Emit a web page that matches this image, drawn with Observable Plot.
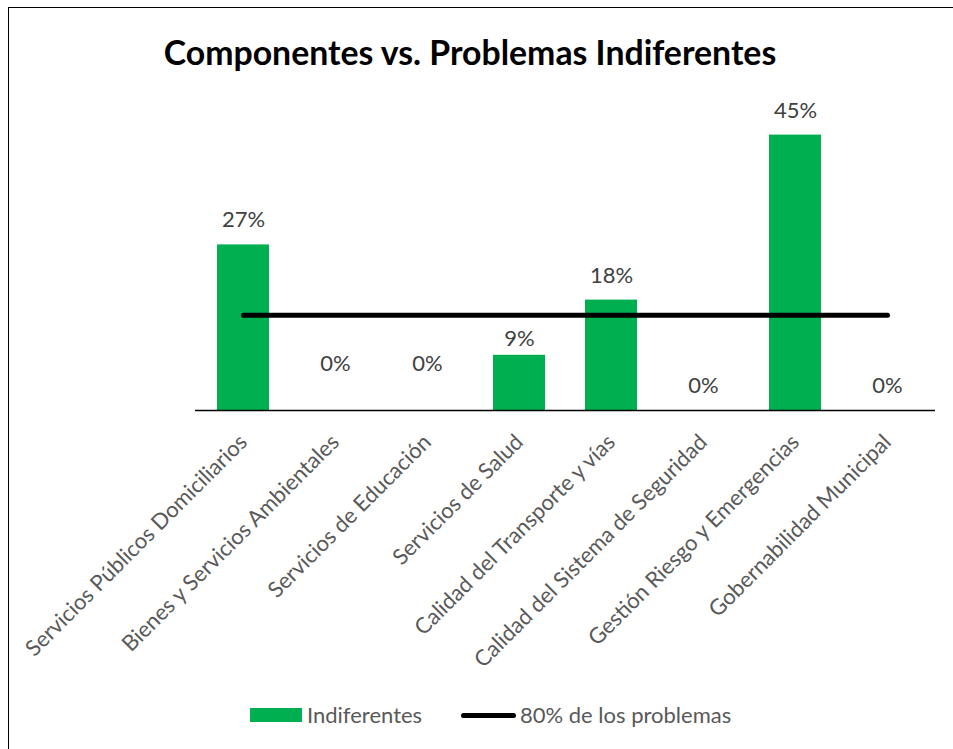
<!DOCTYPE html>
<html><head><meta charset="utf-8">
<script src="https://cdn.jsdelivr.net/npm/d3@7"></script>
<script src="https://cdn.jsdelivr.net/npm/@observablehq/plot@0.6"></script>
<style>
html,body{margin:0;padding:0;overflow:hidden;background:#fff;width:953px;height:749px;}
#frame{position:absolute;left:8px;top:7px;width:960px;height:760px;border-left:1.5px solid #000;border-top:1.5px solid #000;box-sizing:border-box;}
#title{position:absolute;left:0;width:940px;top:32px;text-align:center;font-family:Lato;font-weight:bold;font-size:33.8px;color:#000;line-height:40px;}
#chart{position:absolute;left:0;top:0;}
.lg{position:absolute;font-family:Lato;font-size:22px;color:#595959;line-height:26px;top:702px;white-space:nowrap;}
.sw{position:absolute;}
</style></head><body>
<div id="frame"></div>
<div id="title"></div>
<div id="chart"></div>
<div id="legend"></div>
<script>
const title = "Componentes vs. Problemas Indiferentes";
const categories = [
  "Servicios Públicos Domiciliarios",
  "Bienes y Servicios Ambientales",
  "Servicios de Educación",
  "Servicios de Salud",
  "Calidad del Transporte y vías",
  "Calidad del Sistema de Seguridad",
  "Gestión Riesgo y Emergencias",
  "Gobernabilidad Municipal"
];
const indiferentes = [27.3, 0, 0, 9.1, 18.2, 0, 45.4, 0];
const umbral = 15.7;
const seriesNames = ["Indiferentes", "80% de los problemas"];
const barColor = "#00B050";

const data = categories.map((c, i) => ({cat: c, v: indiferentes[i], i}));
const fmt = v => Math.round(v) + "%";

document.getElementById("title").textContent = title;

const chart = Plot.plot({
  width: 953,
  height: 690,
  marginLeft: 195,
  marginRight: 18,
  marginTop: 106.7,
  marginBottom: 280,
  style: {fontFamily: "Lato", fontSize: "22px", background: "transparent", overflow: "visible"},
  x: {domain: categories, paddingInner: 0.43, paddingOuter: 0.215, label: null},
  y: {domain: [0, 50], axis: null},
  marks: [
    Plot.barY(data, {x: "cat", y: "v", fill: barColor}),
    Plot.ruleY([0], {stroke: "#000", strokeWidth: 1.6}),
    Plot.lineY(data, {x: "cat", y: () => umbral, stroke: "#000", strokeWidth: 5, strokeLinecap: "round"}),
    Plot.text(data.filter(d => ![1, 2, 3].includes(d.i)), {x: "cat", y: "v", text: d => fmt(d.v), dy: -24.5, fill: "#404040", fontSize: 22}),
    Plot.text(data.filter(d => [1, 2].includes(d.i)), {x: "cat", y: "v", text: d => fmt(d.v), dy: -47, fill: "#404040", fontSize: 22}),
    Plot.text(data.filter(d => d.i === 3), {x: "cat", y: "v", text: d => fmt(d.v), dy: -16.5, fill: "#404040", fontSize: 22}),
    Plot.axisX({tickRotate: -45, tickSize: 0, tickPadding: 28, fontSize: 22, fill: "#595959", label: null})
  ]
});
document.getElementById("chart").appendChild(chart);

const lg = document.getElementById("legend");
lg.innerHTML = `
<div class="sw" style="left:250px;top:708px;width:52px;height:14px;background:${barColor}"></div>
<div class="lg" style="left:307px">${seriesNames[0]}</div>
<div class="sw" style="left:461px;top:712.5px;width:55px;height:5px;border-radius:2.5px;background:#000"></div>
<div class="lg" style="left:520px">${seriesNames[1]}</div>`;
</script>
</body></html>
